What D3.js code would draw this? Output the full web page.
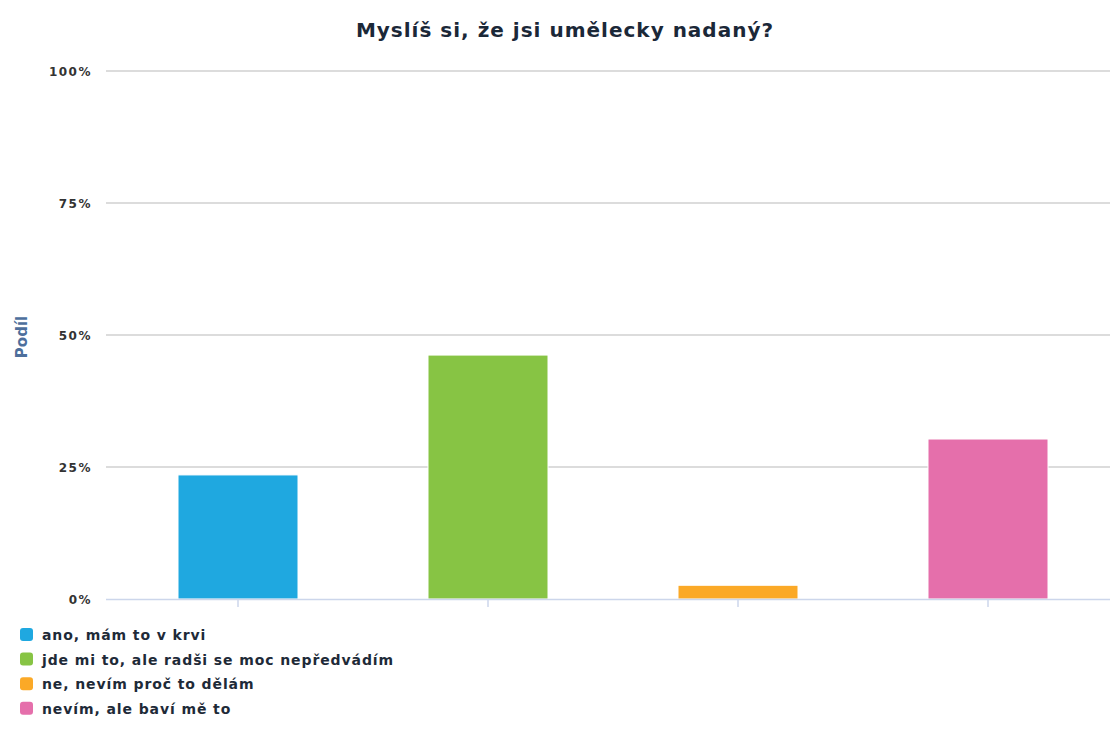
<!DOCTYPE html>
<html lang="cs">
  <head>
    <meta charset="utf-8">
    <title>Myslíš si, že jsi umělecky nadaný?</title>
    <style>
      body { margin: 0; background: #fff; }
      text { font-family: "DejaVu Sans", sans-serif; }
      .grid line { stroke: #d0d0d0; stroke-width: 1.5px; }
      .ytick { font-size: 12px; font-weight: bold; fill: #333; letter-spacing: 1.5px; }
      .legend text { font-size: 14px; font-weight: bold; fill: #1e2a38; letter-spacing: 0.9px; }
    </style>
  </head>
  <body>
    <svg width="1110" height="736"></svg>
  <script src="https://d3js.org/d3.v7.min.js"></script>
  <script>
  // data
  var categories = ["ano, mám to v krvi", "jde mi to, ale radši se moc nepředvádím", "ne, nevím proč to dělám", "nevím, ale baví mě to"];
  var shares = [23.5, 46.2, 2.6, 30.3];
  var colors = ["#1fa8e0", "#87c444", "#fba927", "#e56fab"];
  var yTicks = [0, 25, 50, 75, 100];

  var svg = d3.select("svg");
  var left = 106, right = 1110;

  var x = d3.scaleBand().domain(categories).range([113, 1113]).paddingInner(0.52).paddingOuter(0.26);
  var y = d3.scaleLinear().domain([0, 100]).range([599, 71]);

  // title
  svg.append("text")
    .attr("x", 565).attr("y", 37)
    .attr("text-anchor", "middle")
    .style("font-size", "20px").style("font-weight", "bold").style("fill", "#1b2838")
    .style("letter-spacing", "1px")
    .text("Myslíš si, že jsi umělecky nadaný?");

  // gridlines
  var grid = svg.append("g").attr("class", "grid");
  grid.selectAll("line").data(yTicks.filter(function(d) { return d > 0; })).enter().append("line")
    .attr("x1", left).attr("x2", right)
    .attr("y1", function(d) { return y(d); })
    .attr("y2", function(d) { return y(d); });

  svg.selectAll(".ytick").data(yTicks).enter().append("text")
    .attr("class", "ytick")
    .attr("x", 92).attr("y", function(d) { return y(d) + 5; })
    .attr("text-anchor", "end")
    .text(function(d) { return d + "%"; });

  // y axis title
  svg.append("text")
    .attr("transform", "translate(27," + (y(50) + 2) + ") rotate(-90)")
    .attr("text-anchor", "middle")
    .style("font-size", "15px").style("font-weight", "bold").style("fill", "#4d6f9c")
    .text("Podíl");

  // bars
  svg.append("g").selectAll("rect").data(shares).enter().append("rect")
    .attr("x", function(d, i) { return x(categories[i]); })
    .attr("width", x.bandwidth())
    .attr("y", function(d) { return y(d); })
    .attr("height", function(d) { return y(0) - y(d); })
    .attr("fill", function(d, i) { return colors[i]; })
    .attr("stroke", "#fff").attr("stroke-width", 1);

  // x axis line + ticks
  svg.append("line")
    .attr("x1", left).attr("x2", right)
    .attr("y1", y(0) + 0.5).attr("y2", y(0) + 0.5)
    .attr("stroke", "#ccd6eb").attr("stroke-width", 1.5);
  svg.selectAll(".xtick").data(categories).enter().append("line")
    .attr("class", "xtick")
    .attr("x1", function(d) { return x(d) + x.bandwidth() / 2; })
    .attr("x2", function(d) { return x(d) + x.bandwidth() / 2; })
    .attr("y1", y(0)).attr("y2", y(0) + 8)
    .attr("stroke", "#ccd6eb").attr("stroke-width", 1.5);

  // legend
  var legend = svg.append("g").attr("class", "legend")
    .selectAll("g").data(categories).enter().append("g")
    .attr("transform", function(d, i) { return "translate(20," + (628 + i * 24.6) + ")"; });
  legend.append("rect")
    .attr("width", 13).attr("height", 13).attr("rx", 3)
    .attr("fill", function(d, i) { return colors[i]; });
  legend.append("text")
    .attr("x", 22).attr("y", 12)
    .text(function(d) { return d; });
  </script>
  </body>
</html>
